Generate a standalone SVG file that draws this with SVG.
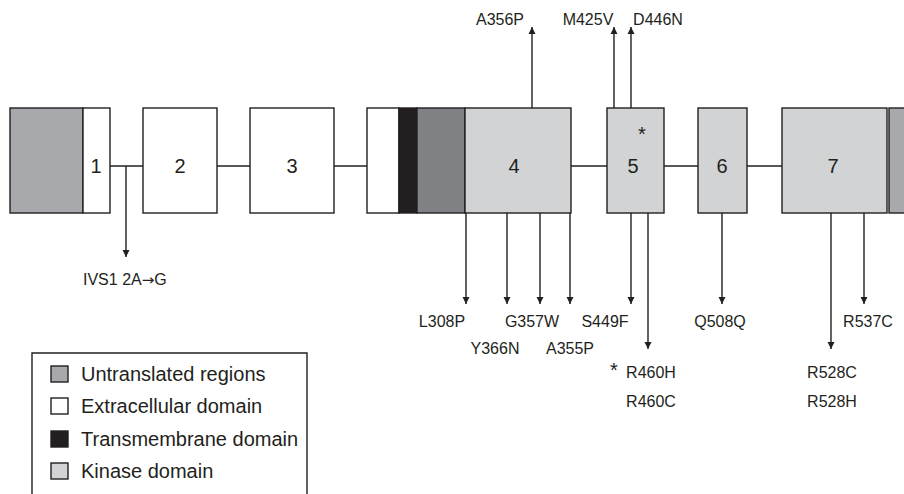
<svg xmlns="http://www.w3.org/2000/svg" width="904" height="494" viewBox="0 0 904 494">
<style>
.b{stroke:#231f20;stroke-width:1.4}
.utr{fill:#a7a9ac}
.ext{fill:#ffffff}
.tm{fill:#231f20}
.dk{fill:#808285}
.kin{fill:#d1d3d4}
.num{font-family:"Liberation Sans",Arial,sans-serif;font-size:20px;fill:#231f20;text-anchor:middle}
.lab{font-family:"Liberation Sans",Arial,sans-serif;font-size:16px;fill:#231f20;text-anchor:middle}
.star{font-family:"Liberation Sans",Arial,sans-serif;font-size:20px;fill:#231f20;text-anchor:middle}
.leg{font-family:"Liberation Sans",Arial,sans-serif;font-size:20px;fill:#231f20}
.ln{stroke:#231f20;stroke-width:1.4;fill:none}
.ar{stroke:#231f20;stroke-width:1.4;fill:none;marker-end:url(#ah)}
</style>
<defs>
<marker id="ah" viewBox="0 0 10 10" refX="10" refY="5" markerWidth="7" markerHeight="8" markerUnits="userSpaceOnUse" orient="auto">
<path d="M0,0 L10,5 L0,10 z" fill="#231f20"/>
</marker>
</defs>
<rect width="904" height="494" fill="#ffffff"/>
<g id="connectors">
<line class="ln" x1="110" y1="166" x2="143" y2="166"/>
<line class="ln" x1="217" y1="166" x2="250" y2="166"/>
<line class="ln" x1="334" y1="166" x2="367" y2="166"/>
<line class="ln" x1="571" y1="166" x2="607" y2="166"/>
<line class="ln" x1="664" y1="166" x2="698" y2="166"/>
<line class="ln" x1="747" y1="166" x2="782" y2="166"/>
<line class="ar" x1="126" y1="166" x2="126" y2="257"/>
<line class="ar" x1="532" y1="108" x2="532" y2="27"/>
<line class="ar" x1="614" y1="108" x2="614" y2="27"/>
<line class="ar" x1="631" y1="108" x2="631" y2="27"/>
<line class="ar" x1="466" y1="213" x2="466" y2="304"/>
<line class="ar" x1="507" y1="213" x2="507" y2="304"/>
<line class="ar" x1="540" y1="213" x2="540" y2="304"/>
<line class="ar" x1="570" y1="213" x2="570" y2="304"/>
<line class="ar" x1="631" y1="213" x2="631" y2="304"/>
<line class="ar" x1="648" y1="213" x2="648" y2="349"/>
<line class="ar" x1="722" y1="213" x2="722" y2="304"/>
<line class="ar" x1="831" y1="213" x2="831" y2="349"/>
<line class="ar" x1="864" y1="213" x2="864" y2="304"/>
</g>
<g id="exon1">
<rect class="b utr" x="10" y="108" width="73" height="105"/>
<rect class="b ext" x="83" y="108" width="27" height="105"/>
<text class="num" x="96" y="173">1</text>
</g>
<g id="exon2">
<rect class="b ext" x="143" y="108" width="74" height="105"/>
<text class="num" x="180" y="173">2</text>
</g>
<g id="exon3">
<rect class="b ext" x="250" y="108" width="84" height="105"/>
<text class="num" x="292" y="173">3</text>
</g>
<g id="exon4">
<rect class="b ext" x="367" y="108" width="32" height="105"/>
<rect class="b tm" x="399" y="108" width="18" height="105"/>
<rect class="b dk" x="417" y="108" width="48" height="105"/>
<rect class="b kin" x="465" y="108" width="106" height="105"/>
<text class="num" x="514" y="173">4</text>
</g>
<g id="exon5">
<rect class="b kin" x="607" y="108" width="57" height="105"/>
<text class="num" x="633" y="173">5</text>
<text class="star" x="642" y="141">*</text>
</g>
<g id="exon6">
<rect class="b kin" x="698" y="108" width="49" height="105"/>
<text class="num" x="722" y="173">6</text>
</g>
<g id="exon7">
<rect class="b kin" x="782" y="108" width="105" height="105"/>
<text class="num" x="833" y="173">7</text>
</g>
<g id="utr3">
<rect class="b utr" x="889" y="108" width="20" height="105"/>
</g>
<g id="labels">
<text class="lab" x="83" y="285" style="text-anchor:start">IVS1 2A<tspan style="font-family:'DejaVu Sans',sans-serif;font-size:15px">→</tspan>G</text>
<text class="lab" x="500" y="25">A356P</text>
<text class="lab" x="588" y="25">M425V</text>
<text class="lab" x="658" y="25">D446N</text>
<text class="lab" x="442" y="327">L308P</text>
<text class="lab" x="532" y="327">G357W</text>
<text class="lab" x="605" y="327">S449F</text>
<text class="lab" x="720" y="327">Q508Q</text>
<text class="lab" x="868" y="327">R537C</text>
<text class="lab" x="495" y="354">Y366N</text>
<text class="lab" x="570" y="354">A355P</text>
<text class="star" x="614" y="377">*</text>
<text class="lab" x="651" y="378">R460H</text>
<text class="lab" x="651" y="407">R460C</text>
<text class="lab" x="832" y="378">R528C</text>
<text class="lab" x="832" y="407">R528H</text>
</g>
<g id="legend">
<path class="ln" d="M32,494 V353 H307 V494"/>
<rect class="b utr" x="51" y="366" width="17" height="16"/>
<rect class="b ext" x="51" y="398" width="17" height="16"/>
<rect class="b tm" x="51" y="431" width="17" height="16"/>
<rect class="b kin" x="51" y="463" width="17" height="16"/>
<text class="leg" x="81" y="381">Untranslated regions</text>
<text class="leg" x="81" y="413">Extracellular domain</text>
<text class="leg" x="81" y="446">Transmembrane domain</text>
<text class="leg" x="81" y="478">Kinase domain</text>
</g>
</svg>
